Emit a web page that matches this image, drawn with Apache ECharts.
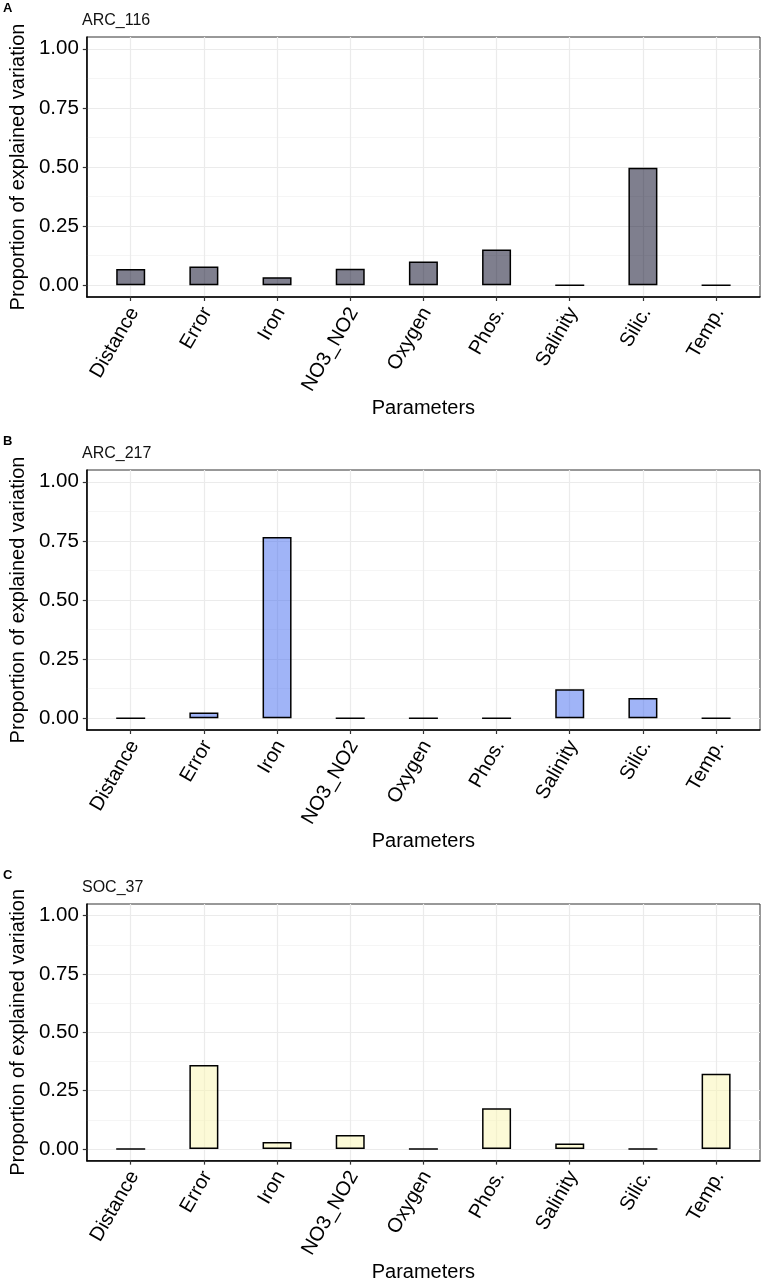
<!DOCTYPE html>
<html>
<head>
<meta charset="utf-8">
<script src="https://cdn.jsdelivr.net/npm/echarts@6/dist/echarts.min.js"></script>
<style>
html,body{margin:0;padding:0;background:#fff;}
#c{width:763px;height:1283px;}
</style>
</head>
<body>
<div id="c"></div>
<script>
const categories = ['Distance', 'Error', 'Iron', 'NO3_NO2', 'Oxygen', 'Phos.', 'Salinity', 'Silic.', 'Temp.'];
const valuesA = [0.068, 0.079, 0.034, 0.070, 0.100, 0.151, 0, 0.497, 0];
const valuesB = [0, 0.024, 0.767, 0, 0, 0, 0.122, 0.085, 0];
const valuesC = [0, 0.360, 0.030, 0.060, 0, 0.175, 0.023, 0, 0.322];
const yTickValues = [0, 0.25, 0.5, 0.75, 1.0];
const panelLetters = ['A', 'B', 'C'];
const panelNames = ['ARC_116', 'ARC_217', 'SOC_37'];
const panelValues = [valuesA, valuesB, valuesC];
const panelColors = ['rgba(0,0,30,0.5)', 'rgba(65,105,240,0.5)', 'rgba(250,245,175,0.5)'];

const FONT = 'Liberation Sans, Arial, Helvetica, sans-serif';
const gridTops = [37, 470, 904];
const xTickValues = categories.map((_, i) => i + 1);

const chart = echarts.init(document.getElementById('c'), null, {renderer: 'canvas'});

const grids = [], xAxes = [], yAxes = [], series = [], titles = [];
for (let i = 0; i < 3; i++) {
  grids.push({left: 82, top: gridTops[i], width: 678, height: 260, show: true,
    borderColor: '#333', borderWidth: 1, backgroundColor: 'transparent', containLabel: false});
  titles.push({text: panelLetters[i], left: 3, top: gridTops[i] - 35, padding: 0,
    textStyle: {fontFamily: FONT, fontSize: 13, fontWeight: 'bold', color: '#000'}});
  titles.push({text: panelNames[i], left: 82, top: gridTops[i] - 24, padding: 0,
    textStyle: {fontFamily: FONT, fontSize: 16, fontWeight: 'normal', color: '#111'}});
  xAxes.push({
    type: 'value', gridIndex: i, min: 0.4, max: 9.6, minInterval: 1, maxInterval: 1,
    name: 'Parameters', nameLocation: 'middle', nameGap: 99,
    nameTextStyle: {fontFamily: FONT, fontSize: 20, color: '#000'},
    axisLine: {show: true, onZero: false, lineStyle: {color: '#000', width: 1.5}},
    axisTick: {show: true, customValues: xTickValues, length: 4, lineStyle: {color: '#333', width: 1.2}},
    axisLabel: {customValues: xTickValues, formatter: v => categories[Math.round(v) - 1] || '',
      rotate: 60, fontFamily: FONT, fontSize: 20, color: '#000', margin: 10,
      verticalAlign: 'top', lineHeight: 8},
    splitLine: {show: true, lineStyle: {color: '#ebebeb', width: 1.2}}
  });
  yAxes.push({
    type: 'value', gridIndex: i, min: -0.05, max: 1.05, minInterval: 0.25, maxInterval: 0.25,
    name: 'Proportion of explained variation', nameLocation: 'middle', nameGap: 48,
    nameTextStyle: {fontFamily: FONT, fontSize: 20, color: '#000'},
    axisLine: {show: true, onZero: false, lineStyle: {color: '#000', width: 1.5}},
    axisTick: {show: true, customValues: yTickValues, length: 4, lineStyle: {color: '#333', width: 1.2}},
    axisLabel: {customValues: yTickValues, formatter: v => v.toFixed(2),
      fontFamily: FONT, fontSize: 20.5, color: '#000', margin: 8},
    splitLine: {show: true, lineStyle: {color: '#ebebeb', width: 1.2}},
    minorTick: {show: false, splitNumber: 2},
    minorSplitLine: {show: true, lineStyle: {color: '#f2f2f2', width: 0.8}}
  });
  series.push({
    type: 'bar', xAxisIndex: i, yAxisIndex: i, barWidth: 29,
    data: panelValues[i].map((v, j) => [j + 1, v]),
    itemStyle: {color: panelColors[i], borderColor: '#000', borderWidth: 1.5},
    silent: true, animation: false
  });
}

chart.setOption({
  backgroundColor: '#fff',
  animation: false,
  title: titles,
  grid: grids,
  xAxis: xAxes,
  yAxis: yAxes,
  series: series
});
</script>
</body>
</html>
